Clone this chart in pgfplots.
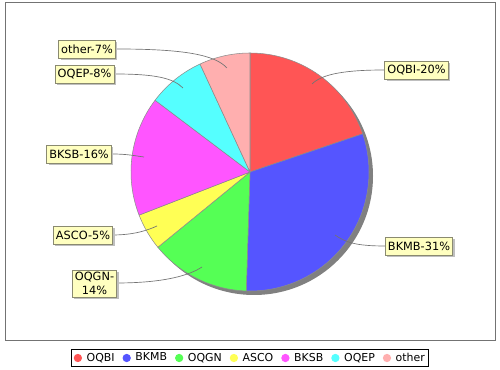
\documentclass[border=0pt]{standalone}
\usepackage{pgfplots}
\pgfplotsset{compat=1.18}
\usepackage{pgfplotstable}
\usepackage{fontspec}
\setmainfont{DejaVu Sans}
\usetikzlibrary{shadows}

\definecolor{c0}{HTML}{FF5555}
\definecolor{c1}{HTML}{5555FF}
\definecolor{c2}{HTML}{55FF55}
\definecolor{c3}{HTML}{FFFF55}
\definecolor{c4}{HTML}{FF55FF}
\definecolor{c5}{HTML}{55FFFF}
\definecolor{c6}{HTML}{FFAFAF}
\definecolor{lblbg}{HTML}{FFFFC0}
\definecolor{lblborder}{HTML}{8A8A70}

\pgfplotstableread{
name value
OQBI 19.8
BKMB 30.7
OQGN 13.6
ASCO 5.0
BKSB 16.2
OQEP 7.8
other 6.9
}\piedata

% cumulative start/end angles (clockwise from 12 o'clock)
\gdef\cum{0}
\foreach \i in {0,...,6}{%
  \pgfplotstablegetelem{\i}{value}\of\piedata
  \pgfmathsetmacro{\sa}{90-3.6*\cum}%
  \pgfmathsetmacro{\newcum}{\cum+\pgfplotsretval}%
  \pgfmathsetmacro{\ea}{90-3.6*\newcum}%
  \expandafter\xdef\csname sa\i\endcsname{\sa}%
  \expandafter\xdef\csname ea\i\endcsname{\ea}%
  \xdef\cum{\newcum}%
}

\newcommand{\lblfont}{\fontsize{8.5pt}{10pt}\selectfont}

\begin{document}
\begin{tikzpicture}
\begin{axis}[
  width=375pt, height=277.5pt, scale only axis,
  xmin=0, xmax=500, ymin=0, ymax=370, y dir=reverse,
  hide axis, clip=false,
  legend columns=7,
  legend style={at={(axis cs:250,358)}, anchor=center, draw=black, line width=0.75pt,
    font=\fontsize{8.2pt}{9pt}\selectfont, inner xsep=2pt, inner ysep=1.5pt,
    nodes={inner sep=1pt, line width=0.4pt},
    /tikz/every odd column/.append style={column sep=2.5pt},
    /tikz/every even column/.append style={column sep=5pt}},
  legend image code/.code={\fill[#1] (0.1cm,0cm) circle (2.7pt);},
]
\path (axis cs:0,0) rectangle (axis cs:500,370);
\draw[black!55, line width=0.75pt] (axis cs:5,3) rectangle (axis cs:495,341);

% pie shadow
\fill[black!50] (axis cs:254,176) circle (89.25pt);

% wedges
\pgfplotsinvokeforeach{0,...,6}{%
  \filldraw[fill=c#1, draw=black!45, line width=0.4pt, line join=round]
    (axis cs:250,172) -- ++(\csname sa#1\endcsname:89.25pt)
    arc[start angle=\csname sa#1\endcsname, end angle=\csname ea#1\endcsname, radius=89.25pt] -- cycle;
}

% leader lines
\begin{scope}[black!55, line width=0.5pt]
\draw (axis cs:384,70) .. controls (axis cs:345,70) and (axis cs:322,74) .. (axis cs:312,84);
\draw (axis cs:385,246) .. controls (axis cs:355,246) and (axis cs:345,242) .. (axis cs:335,235);
\draw (axis cs:117,49) .. controls (axis cs:185,49) and (axis cs:215,55) .. (axis cs:227,68);
\draw (axis cs:115,74) .. controls (axis cs:155,74) and (axis cs:173,78) .. (axis cs:183,88);
\draw (axis cs:112,154) .. controls (axis cs:128,154) and (axis cs:136,156) .. (axis cs:144,157);
\draw (axis cs:112,235) .. controls (axis cs:135,235) and (axis cs:148,230) .. (axis cs:157,226);
\draw (axis cs:116,283) .. controls (axis cs:165,283) and (axis cs:190,275) .. (axis cs:202,267);
\end{scope}

% labels
\tikzset{lbl/.style={draw=lblborder, fill=lblbg, line width=0.5pt, font=\lblfont,
  inner xsep=2pt, inner ysep=0pt, minimum height=13.5pt, align=center,
  drop shadow={shadow xshift=1.5pt, shadow yshift=-1.5pt, fill=black!25, opacity=1}}}
\node[lbl] at (axis cs:416.5,70) {OQBI-20\%};
\node[lbl] at (axis cs:419,246) {BKMB-31\%};
\node[lbl] at (axis cs:87,49.5) {other-7\%};
\node[lbl] at (axis cs:84.5,74.5) {OQEP-8\%};
\node[lbl] at (axis cs:79,154.5) {BKSB-16\%};
\node[lbl] at (axis cs:83,235) {ASCO-5\%};
\node[lbl, inner ysep=2pt] at (axis cs:94.5,283.5) {OQGN-\\14\%};

% legend
\addlegendimage{c0}\addlegendentry{OQBI}
\addlegendimage{c1}\addlegendentry{BKMB}
\addlegendimage{c2}\addlegendentry{OQGN}
\addlegendimage{c3}\addlegendentry{ASCO}
\addlegendimage{c4}\addlegendentry{BKSB}
\addlegendimage{c5}\addlegendentry{OQEP}
\addlegendimage{c6}\addlegendentry{other}
\end{axis}
\end{tikzpicture}
\end{document}
